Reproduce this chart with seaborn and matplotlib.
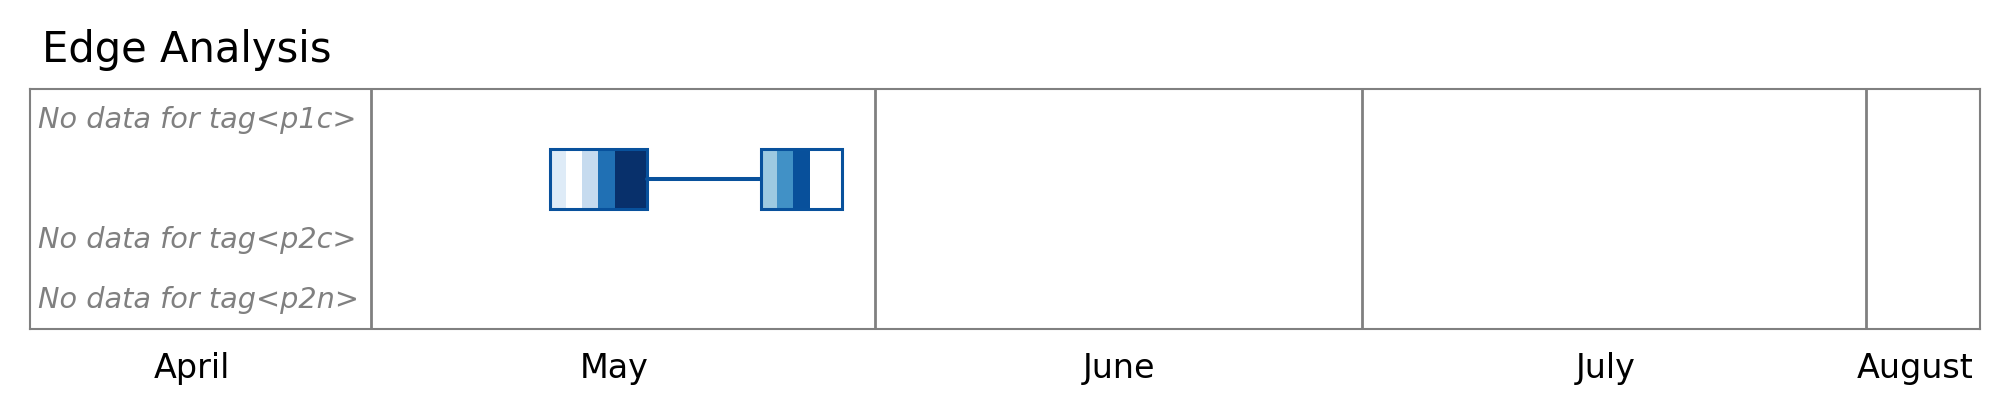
import pandas as pd
import matplotlib.pyplot as plt
import matplotlib.dates as mdates
from matplotlib.patches import Rectangle
import seaborn as sns

# rows of the strip chart, top to bottom
tags = ['p1c', 'p1n', 'p2c', 'p2n']

# daily blocks: which row, first day, per-day counts (0 = empty day)
block_tags = ['p1n', 'p1n']
block_starts = ['2023-05-12', '2023-05-25']
block_values = [[1, 0, 2, 6, 8, 8], [3, 5, 7, 0, 0]]
value_max = 8

# visible time range and months
range_start = pd.Timestamp('2023-04-10')
range_end = pd.Timestamp('2023-08-08')
months = ['April', 'May', 'June', 'July', 'August']

sns.set_theme(style='white')
plt.rcParams['font.family'] = ['DejaVu Sans']
cmap = sns.color_palette('Blues', as_cmap=True)

fig = plt.figure(figsize=(20.09, 4.14), dpi=100)
ax = fig.add_axes([29.5 / 2009, 1 - 330 / 414, 1950.5 / 2009, 240 / 414])

edge_color = '#08519c'
row_of = {t: i for i, t in enumerate(tags)}

prev_end = {}
for tag, start, vals in zip(block_tags, block_starts, block_values):
    row = row_of[tag]
    days = pd.date_range(start, periods=len(vals), freq='D')
    colors = ['#ffffff' if v == 0 else cmap(v / value_max) for v in vals]
    ax.bar(days, 1, bottom=row, width=1, align='edge', color=colors,
           edgecolor='none', linewidth=0, zorder=2)
    x0 = mdates.date2num(days[0])
    x1 = mdates.date2num(days[-1] + pd.Timedelta(days=1))
    ax.add_patch(Rectangle((x0, row), x1 - x0, 1, fill=False,
                           edgecolor=edge_color, linewidth=2.2, zorder=3))
    # connect to previous block in the same row
    if tag in prev_end:
        ax.plot([prev_end[tag], x0], [row + 0.5, row + 0.5],
                color=edge_color, linewidth=2.9, zorder=2)
    prev_end[tag] = x1

# rows with nothing in them get a note
for tag in tags:
    if tag not in block_tags:
        ax.text(8 / 1950.5, row_of[tag] + 0.5, f'No data for tag<{tag}>',
                transform=ax.get_yaxis_transform(), fontsize=20.7,
                style='italic', color='#808080', va='center', ha='left')

# month dividers and labels at the middle day of the visible part of each month
month_starts = pd.date_range(range_start, range_end, freq='MS')
for m in month_starts:
    ax.axvline(m, color='#808080', linewidth=2.0, zorder=4)
edges = [range_start] + list(month_starts) + [range_end]
centres = [a + pd.Timedelta(days=(b - a).days // 2)
           for a, b in zip(edges[:-1], edges[1:])]
ax.set_xticks(centres)
ax.set_xticklabels(months)
ax.tick_params(axis='x', length=0, pad=15.5, labelsize=24, labelcolor='black')
ax.set_yticks([])

ax.set_xlim(range_start, range_end)
ax.set_ylim(len(tags), 0)
for spine in ax.spines.values():
    spine.set_color('#808080')
    spine.set_linewidth(1.5)

fig.text(42 / 2009, 1 - 62 / 414, 'Edge Analysis', fontsize=30,
         color='black', va='baseline', ha='left')

fig.savefig('out.png', dpi=100)
